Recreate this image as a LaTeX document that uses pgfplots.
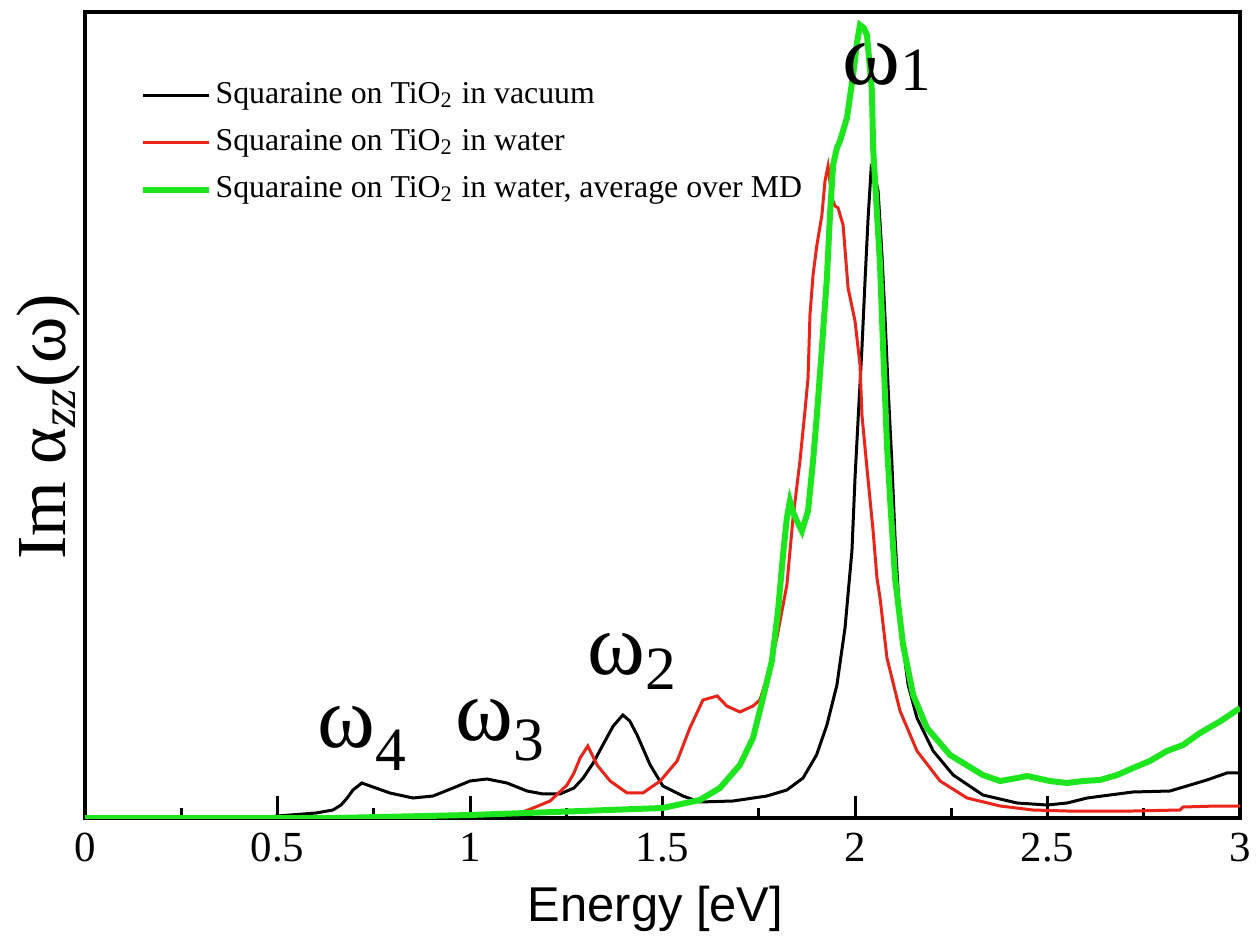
\documentclass[border=0pt]{standalone}
\usepackage{pgfplots}
\pgfplotsset{compat=1.18}
\usepackage{fontspec}
\setmainfont{Liberation Serif}
\newfontfamily\arialfont{Liberation Sans}
\definecolor{cred}{RGB}{235,35,25}
\definecolor{cgreen}{RGB}{30,230,30}

\pgfplotstableread{
x y
0 0
0.45 0
0.50 2
0.60 5
0.644 8
0.665 13
0.681 20
0.696 28
0.719 35
0.748 31
0.792 25
0.852 20
0.904 22
0.956 30
1.000 37
1.044 39
1.096 35
1.148 27
1.190 24
1.234 24
1.270 30
1.294 40
1.320 55
1.345 73
1.372 92
1.397 103
1.415 97
1.434 83
1.468 53
1.501 32
1.553 22
1.597 16
1.683 17
1.771 22
1.823 28
1.865 40
1.900 63
1.927 93
1.953 133
1.974 190
1.992 267
2.000 340
2.010 413
2.018 470
2.026 537
2.034 600
2.042 650
2.050 645
2.060 627
2.070 563
2.078 500
2.086 430
2.096 353
2.104 280
2.117 195
2.138 133
2.161 100
2.203 67
2.255 43
2.332 23
2.421 15
2.499 13
2.551 15
2.603 20
2.662 23
2.722 26
2.818 27
2.862 32
2.914 38
2.966 45
3.000 45
}\vacuum

\pgfplotstableread{
x y
0 0
0.90 0
0.93 3
1.05 4
1.13 5
1.164 10
1.208 17
1.252 33
1.270 45
1.286 60
1.306 72
1.330 53
1.364 37
1.408 25
1.449 25
1.494 37
1.538 57
1.571 90
1.605 118
1.642 122
1.667 112
1.701 106
1.735 112
1.753 118
1.771 140
1.797 180
1.823 233
1.839 300
1.857 357
1.870 407
1.878 440
1.883 503
1.891 543
1.901 573
1.914 603
1.922 637
1.930 652
1.940 620
1.948 612
1.956 610
1.969 593
1.982 530
2.000 497
2.013 453
2.018 403
2.031 350
2.047 287
2.057 240
2.065 220
2.083 160
2.117 107
2.161 67
2.221 37
2.291 20
2.377 12
2.462 8
2.551 7
2.722 7
2.844 8
2.852 11
2.940 12
3.000 12
}\water

\pgfplotstableread{
x y
0 0
0.65 0
1.00 3
1.29 7
1.50 10
1.597 18
1.649 30
1.701 53
1.735 80
1.761 120
1.784 157
1.800 207
1.813 263
1.823 300
1.831 317
1.840 305
1.849 297
1.862 287
1.878 307
1.891 357
1.901 403
1.914 470
1.927 540
1.935 603
1.943 653
1.953 670
1.961 677
1.979 700
1.995 743
2.005 775
2.013 793
2.023 790
2.031 783
2.044 727
2.047 670
2.065 553
2.073 470
2.083 373
2.091 320
2.104 240
2.125 173
2.151 123
2.187 90
2.247 63
2.332 43
2.377 37
2.421 40
2.447 42
2.506 37
2.551 35
2.592 37
2.636 38
2.681 43
2.722 50
2.766 57
2.810 67
2.852 73
2.896 85
2.950 97
3.000 110
}\waterMD

\begin{document}
\begin{tikzpicture}
\useasboundingbox (-8.5mm,-11.8mm) rectangle (117.2mm,81.8mm);
\begin{axis}[
  at={(0,0)}, anchor=south west,
  scale only axis, width=115.5mm, height=80.6mm,
  xmin=0, xmax=3, ymin=0, ymax=806,
  xtick={0,0.5,1,1.5,2,2.5,3},
  minor xtick={0.25,0.75,1.25,1.75,2.25,2.75},
  ytick=\empty,
  xtick pos=left,
  tick align=inside,
  major tick length=2.2mm, minor tick length=1mm,
  every tick/.style={black, line width=0.3mm},
  axis line style={line width=0.35mm},
  /pgf/number format/assume math mode=true,
  xticklabel style={font=\fontsize{12.2}{14}\selectfont, yshift=-0.3mm},
  xlabel={Energy [eV]},
  xlabel style={font=\arialfont\fontsize{13.9}{16}\selectfont, at={(axis description cs:0.494,-0.129)}, anchor=base},
  ylabel={Im α\textsubscript{\textit{zz}}(ω)},
  ylabel style={font=\fontsize{20}{24}\selectfont, at={(axis description cs:-0.0173,0.485)}, anchor=base},
  legend style={at={(axis description cs:0.0467,0.9180)}, anchor=north west, draw=none, fill=none,
    inner sep=0pt, font=\fontsize{9.05}{10.5}\selectfont, row sep=1.25mm, nodes={inner sep=0.4mm}},
  legend cell align=left,
  legend image code/.code={\draw[#1] (0mm,0mm) -- (6.6mm,0mm);},
]
\addplot[black, line width=0.3mm, no marks] table {\vacuum};
\addlegendentry{Squaraine on TiO\textsubscript{2} in vacuum}
\addplot[cred, line width=0.3mm, no marks] table {\water};
\addlegendentry{Squaraine on TiO\textsubscript{2} in water}
\addplot[cgreen, line width=0.6mm, no marks] table {\waterMD};
\addlegendentry{Squaraine on TiO\textsubscript{2} in water, average over MD}

\node[anchor=base west, inner sep=0, font=\fontsize{25}{30}\selectfont] at (axis cs:1.966,733) {ω\raisebox{-0.6mm}{\fontsize{17.5}{20}\selectfont 1}};
\node[anchor=base west, inner sep=0, font=\fontsize{25}{30}\selectfont] at (axis cs:1.304,143) {ω\raisebox{-1.5mm}{\fontsize{17.5}{20}\selectfont 2}};
\node[anchor=base west, inner sep=0, font=\fontsize{25}{30}\selectfont] at (axis cs:0.961,77) {ω\raisebox{-2.0mm}{\fontsize{17.5}{20}\selectfont 3}};
\node[anchor=base west, inner sep=0, font=\fontsize{25}{30}\selectfont] at (axis cs:0.603,70) {ω\raisebox{-2.3mm}{\fontsize{17.5}{20}\selectfont 4}};
\end{axis}
\end{tikzpicture}
\end{document}
